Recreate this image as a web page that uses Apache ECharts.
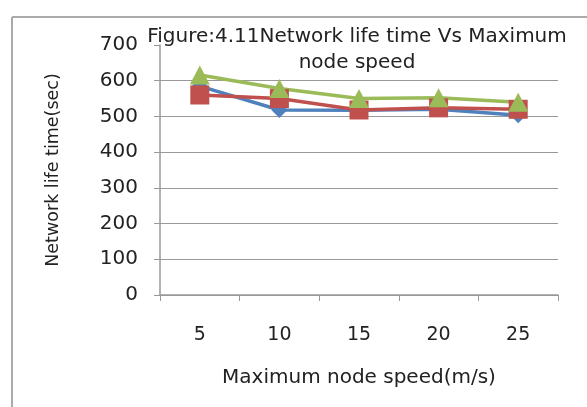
<!DOCTYPE html>
<html><head><meta charset="utf-8">
<script src="https://cdn.jsdelivr.net/npm/echarts@6/dist/echarts.min.js"></script>
<style>html,body{margin:0;padding:0;background:#fff}#c{width:587px;height:407px}</style>
</head><body><div id="c"></div>
<script>
var categories = ['5','10','15','20','25'];
var seriesBlue = [585, 518, 517, 520, 503];
var seriesRed = [560, 550, 518, 524, 520];
var seriesGreen = [616, 578, 550, 552, 540];
var yTicks = {min:0, max:700, interval:100};

var chart = echarts.init(document.getElementById('c'));
var font = '"DejaVu Sans", sans-serif';
chart.setOption({
  animation:false,
  backgroundColor:'#fff',
  title:{text:'Figure:4.11Network life time Vs Maximum\nnode speed', left:352, textAlign:'center', top:19,
    textStyle:{fontSize:20, fontWeight:'normal', color:'#222', fontFamily:font, lineHeight:26}},
  graphic:[
    {type:'line', shape:{x1:12,y1:17,x2:587,y2:17}, style:{stroke:'#aaa', lineWidth:2}},
    {type:'line', shape:{x1:12,y1:17,x2:12,y2:407}, style:{stroke:'#aaa', lineWidth:2}}
  ],
  grid:{left:160, right:29, top:45, bottom:112},
  xAxis:{type:'category', data:categories, boundaryGap:true,
    name:'Maximum node speed(m/s)', nameLocation:'middle', nameGap:73,
    nameTextStyle:{fontSize:20, color:'#222', fontFamily:font, verticalAlign:'top'},
    axisLine:{lineStyle:{color:'#999', width:1.5}},
    axisTick:{show:true, length:6, lineStyle:{color:'#999'}},
    axisLabel:{fontSize:19, color:'#222', margin:31, fontFamily:font}},
  yAxis:{type:'value', min:yTicks.min, max:yTicks.max, interval:yTicks.interval,
    name:'Network life time(sec)', nameLocation:'middle', nameGap:98, nameRotate:90,
    nameTextStyle:{fontSize:17.5, color:'#222', fontFamily:font},
    axisLine:{show:true, lineStyle:{color:'#999', width:1.5}},
    axisTick:{show:true, inside:false, length:6, lineStyle:{color:'#999'}},
    axisLabel:{fontSize:20, color:'#222', margin:22, fontFamily:font},
    splitLine:{show:true, showMaxLine:false, lineStyle:{color:'#999', width:1.2}}},
  series:[
    {type:'line', data:seriesBlue, symbol:'diamond', symbolSize:16,
     lineStyle:{color:'#4F81BD', width:3.5}, itemStyle:{color:'#4F81BD'}},
    {type:'line', data:seriesRed, symbol:'rect', symbolSize:19,
     lineStyle:{color:'#C0504D', width:3.5}, itemStyle:{color:'#C0504D'}},
    {type:'line', data:seriesGreen, symbol:'triangle', symbolSize:[20,19],
     lineStyle:{color:'#9BBB59', width:3.5}, itemStyle:{color:'#9BBB59'}}
  ]
});
</script></body></html>
